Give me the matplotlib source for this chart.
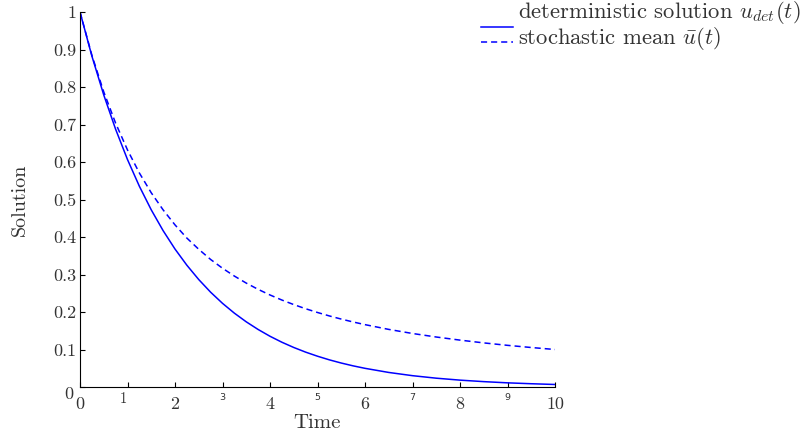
import matplotlib
matplotlib.use("Agg")
import matplotlib.pyplot as plt
from matplotlib.lines import Line2D
from matplotlib.transforms import ScaledTranslation

plt.rcParams['font.family'] = ['cmr10', 'DejaVu Serif']
plt.rcParams['mathtext.fontset'] = 'cm'
plt.rcParams['axes.formatter.use_mathtext'] = True

# data
time = [0, 0.25, 0.5, 0.75, 1, 1.25, 1.5, 1.75, 2, 2.25, 2.5, 2.75, 3, 3.25, 3.5, 3.75,
        4, 4.25, 4.5, 4.75, 5, 5.25, 5.5, 5.75, 6, 6.5, 7, 7.5, 8, 8.5, 9, 9.5, 10]
u_det = [1.0, 0.8825, 0.7788, 0.6873, 0.6065, 0.5353, 0.4724, 0.4169, 0.3679, 0.3247,
         0.2865, 0.2528, 0.2231, 0.1969, 0.1738, 0.1534, 0.1353, 0.1194, 0.1054, 0.0930,
         0.0821, 0.0724, 0.0639, 0.0564, 0.0498, 0.0388, 0.0302, 0.0235, 0.0183, 0.0143,
         0.0111, 0.0087, 0.0067]
u_mean = [1.0, 0.8848, 0.7869, 0.7035, 0.6321, 0.5707, 0.5179, 0.4723, 0.4323, 0.3971,
          0.3672, 0.3401, 0.3167, 0.2958, 0.2771, 0.2604, 0.2454, 0.2319, 0.2198, 0.2087,
          0.1987, 0.1895, 0.1811, 0.1734, 0.1663, 0.1536, 0.1427, 0.1333, 0.1250, 0.1176,
          0.1111, 0.1053, 0.1000]
x_ticks = list(range(0, 11))
y_ticks = [0, 0.1, 0.2, 0.3, 0.4, 0.5, 0.6, 0.7, 0.8, 0.9, 1]
y_tick_labels = ['0', '0.1', '0.2', '0.3', '0.4', '0.5', '0.6', '0.7', '0.8', '0.9', '1']
legend_labels = [r'deterministic solution $u_{det}(t)$', r'stochastic mean $\bar{u}(t)$']

txt = '#333333'
blue = '#0000ff'
dash = (0, (4, 2.6))
fig = plt.figure(figsize=(8.06, 4.33), dpi=100)
ax = fig.add_axes([80/806, 1-387/433, 475/806, 375/433])
ax.plot(time, u_det, color=blue, lw=1.1)
ax.plot(time, u_mean, color=blue, lw=1.1, linestyle=dash)
ax.set_xlim(0, 10)
ax.set_ylim(0, 1)
for s in ['top', 'right']:
    ax.spines[s].set_visible(False)
for s in ['left', 'bottom']:
    ax.spines[s].set_linewidth(0.8)
ax.tick_params(direction='in', length=3.5, width=0.8, colors='black', labelcolor=txt,
               labelsize=13)
ax.tick_params(axis='y', pad=2.9)
ax.set_yticks(y_ticks)
ax.set_yticklabels(y_tick_labels)
ax.set_xticks(x_ticks)
ax.set_xticklabels([str(v) for v in x_ticks])

ticks = ax.xaxis.get_major_ticks()
for v, tk in zip(x_ticks, ticks):
    if v == 1:
        tk.set_pad(3.6)
        tk.label1.set_fontsize(10.5)
        tk.label1.set_transform(tk.label1.get_transform() +
                                ScaledTranslation(-4/100, 0, fig.dpi_scale_trans))
    elif v % 2 == 1:
        tk.set_pad(4.6)
        tk.label1.set_fontsize(6.8)
        tk.label1.set_fontfamily(['DejaVu Sans'])
    else:
        tk.set_pad(6.8)
ytk = ax.yaxis.get_major_ticks()[0]
ytk.label1.set_transform(ytk.label1.get_transform() +
                         ScaledTranslation(-3/100, -5.5/100, fig.dpi_scale_trans))

ax.set_xlabel('Time', fontsize=15, color=txt, labelpad=1.5)
ax.set_ylabel('Solution', fontsize=14.5, color=txt, labelpad=17)

# legend (outside axes, top right, no frame)
fig.add_artist(Line2D([481/806, 513/806], [1-26.7/433, 1-26.7/433], color=blue, lw=1.1))
fig.add_artist(Line2D([481/806, 513/806], [1-41.7/433, 1-41.7/433], color=blue, lw=1.1,
                      linestyle=dash))
fig.text(518/806, 1-18.5/433, legend_labels[0], fontsize=16.3, color=txt, va='baseline')
fig.text(518/806, 1-44.3/433, legend_labels[1], fontsize=16.3, color=txt, va='baseline')

fig.savefig('out.png', dpi=100)
